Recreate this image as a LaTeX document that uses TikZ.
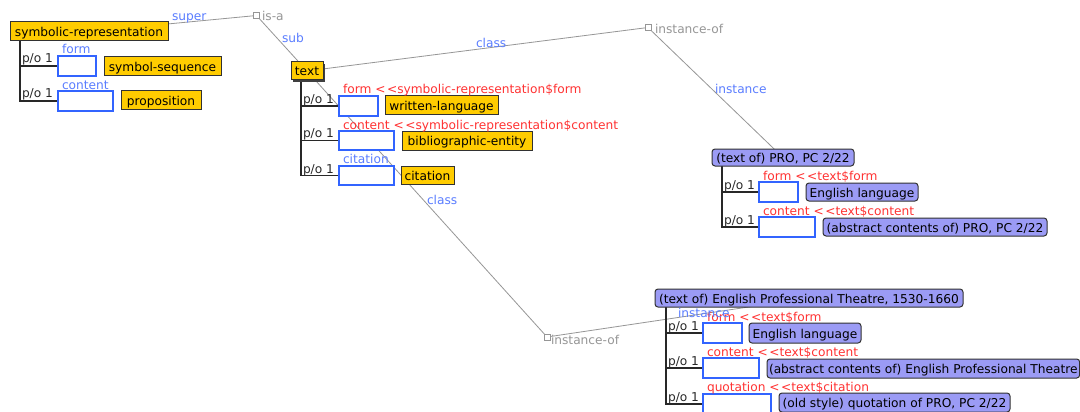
\documentclass[tikz,border=0pt]{standalone}
\usepackage{fontspec}
\setmainfont{DejaVu Sans}
\usetikzlibrary{backgrounds,shadows}

\definecolor{frameyellow}{RGB}{255,204,0}
\definecolor{instviolet}{RGB}{155,155,245}
\definecolor{edgeink}{RGB}{50,50,50}
\definecolor{slotblue}{RGB}{50,100,255}
\definecolor{treeink}{RGB}{40,40,40}
\definecolor{relblue}{RGB}{90,125,255}
\definecolor{inhred}{RGB}{255,50,50}
\definecolor{taggray}{RGB}{150,150,150}
\definecolor{linkgray}{RGB}{150,150,150}

% two separate "<" signs (no guillemet ligature)
\newcommand{\inherits}{<\kern1.5pt<}

\begin{document}
\begin{tikzpicture}[x=1pt,y=-1pt,
  every node/.style={font=\fontsize{12.2}{14}\selectfont, inner sep=0pt, outer sep=0pt},
  box/.style={anchor=north west, text height=10.5pt, text depth=0.5pt, inner xsep=2pt,
              line width=1pt, draw=edgeink},
  frame/.style={box, fill=frameyellow},
  inst/.style={box, fill=instviolet, rounded corners=3pt},
  slot/.style={anchor=north west, draw=slotblue, fill=white, line width=1.2pt},
  pol/.style={anchor=base west, text=treeink},
  rel/.style={anchor=base west, text=relblue},
  inh/.style={anchor=base west, text=inhred},
  tag/.style={anchor=base west, text=taggray},
  tree/.style={draw=treeink, line width=1.3pt},
  link/.style={draw=linkgray, line width=0.8pt},
  hub/.style={draw=taggray, fill=white, line width=0.8pt, minimum size=6pt, inner sep=0pt}
]
\useasboundingbox (0,0) rectangle (1080,412);

% ---------- class frame: symbolic-representation ----------
\node[frame, minimum width=158, minimum height=19] (symrep) at (10,22) {symbolic-representation};
\node[slot, minimum width=38, minimum height=20] (srform) at (58,56) {};
\node[frame, minimum width=117, minimum height=19] (symseq) at (104,57) {symbol-sequence};
\node[slot, minimum width=55, minimum height=20] (srcontent) at (58,91) {};
\node[frame, minimum width=80, minimum height=19] (prop) at (121,91) {proposition};
\node[pol] (srpo1) at (22,63) {p/o 1};
\node[pol] (srpo2) at (22,98) {p/o 1};
\node[rel] (srformlbl) at (62,54) {form};
\node[rel] (srcontentlbl) at (62,89) {content};

% ---------- class frame: text ----------
\node[frame, minimum width=32, minimum height=18,
      drop shadow={shadow xshift=2pt, shadow yshift=-2pt, fill=black!75, opacity=1}] (text) at (291,62) {text};
\node[slot, minimum width=39, minimum height=20] (tform) at (339,96) {};
\node[frame, minimum width=113, minimum height=19] (wlang) at (385,96) {written-language};
\node[slot, minimum width=55, minimum height=19] (tcontent) at (339,131) {};
\node[frame, minimum width=130, minimum height=19] (bib) at (402,131) {bibliographic-entity};
\node[slot, minimum width=55, minimum height=19] (tcit) at (339,166) {};
\node[frame, minimum width=53, minimum height=18] (cit) at (401,166) {citation};
\node[pol] (tpo1) at (303,103) {p/o 1};
\node[pol] (tpo2) at (303,138) {p/o 1};
\node[pol] (tpo3) at (303,173) {p/o 1};
\node[inh] (tformlbl) at (343,94) {form \inherits symbolic-representation\$form};
\node[inh] (tcontentlbl) at (343,129) {content \inherits symbolic-representation\$content};
\node[rel] (tcitlbl) at (343,164) {citation};

% ---------- instance: PRO, PC 2/22 ----------
\node[inst, minimum width=142, minimum height=17] (pro) at (712,149) {(text of) PRO, PC 2/22};
\node[slot, minimum width=39, minimum height=20] (proform) at (759,182) {};
\node[inst, minimum width=112, minimum height=18] (proeng) at (806,183) {English language};
\node[slot, minimum width=56, minimum height=20] (procontent) at (759,217) {};
\node[inst, minimum width=224, minimum height=18] (proabs) at (823,218) {(abstract contents of) PRO, PC 2/22};
\node[pol] (propo1) at (724,189) {p/o 1};
\node[pol] (propo2) at (724,224) {p/o 1};
\node[inh] (proformlbl) at (763,180) {form \inherits text\$form};
\node[inh] (procontentlbl) at (763,215) {content \inherits text\$content};

% ---------- instance: English Professional Theatre ----------
\node[inst, minimum width=308, minimum height=18] (ept) at (655,289) {(text of) English Professional Theatre, 1530-1660};
\node[slot, minimum width=39, minimum height=20] (eptform) at (703,323) {};
\node[inst, minimum width=112, minimum height=20] (epteng) at (749,323) {English language};
\node[slot, minimum width=56, minimum height=20] (eptcontent) at (703,358) {};
\node[inst, minimum width=311, minimum height=19] (eptabs) at (767,359) {(abstract contents of) English Professional Theatre};
\node[slot, minimum width=68, minimum height=20] (eptquote) at (703,394) {};
\node[inst, minimum width=231, minimum height=19] (eptold) at (779,393) {(old style) quotation of PRO, PC 2/22};
\node[pol] (eptpo1) at (668,330) {p/o 1};
\node[pol] (eptpo2) at (668,365) {p/o 1};
\node[pol] (eptpo3) at (668,401) {p/o 1};
\node[inh] (eptformlbl) at (707,321) {form \inherits text\$form};
\node[inh] (eptcontentlbl) at (707,356) {content \inherits text\$content};
\node[inh] (eptquotelbl) at (707,391) {quotation \inherits text\$citation};

% ---------- relation hubs ----------
\node[hub] (isa) at (256.5,15.5) {};
\node[hub] (instof) at (648,27.5) {};
\node[hub] (instofb) at (547,337) {};
\node[tag] (isatag) at (262,21) {is-a};
\node[tag] (instoftag) at (655,34) {instance-of};
\node[tag] (instofbtag) at (551,344) {instance-of};

% role labels along the links
\node[rel] (superlbl) at (172,21) {super};
\node[rel] (sublbl) at (282,43) {sub};
\node[rel] (classlbl) at (476,48) {class};
\node[rel] (instlbl) at (715,93) {instance};
\node[rel] (classblbl) at (427,204) {class};
\node[rel] (instblbl) at (678,317) {instance};

% ---------- links and part-of trees, under the boxes ----------
\begin{scope}[on background layer]
  \fill[white] (0,0) rectangle (1080,412);
  \draw[link] (symrep.center) -- (isa.center);
  \draw[link] (isa.center) -- (text.center);
  \draw[link] (text.center) -- (instof.center);
  \draw[link] (instof.center) -- (pro.center);
  \draw[link] (text.center) -- (instofb.center);
  \draw[link] (instofb.center) -- (ept.center);

  \draw[tree] (symrep.south west) ++(10,0) |- (srform.west);
  \draw[tree] (symrep.south west) ++(10,0) |- (srcontent.west);
  \draw[tree] (text.south west) ++(10,0) |- (tform.west);
  \draw[tree] (text.south west) ++(10,0) |- (tcontent.west);
  \draw[tree] (text.south west) ++(10,0) |- (tcit.west);
  \draw[tree] (pro.south west) ++(10,0) |- (proform.west);
  \draw[tree] (pro.south west) ++(10,0) |- (procontent.west);
  \draw[tree] (ept.south west) ++(11,0) |- (eptform.west);
  \draw[tree] (ept.south west) ++(11,0) |- (eptcontent.west);
  \draw[tree] (ept.south west) ++(11,0) |- (eptquote.west);
\end{scope}
\end{tikzpicture}
\end{document}
